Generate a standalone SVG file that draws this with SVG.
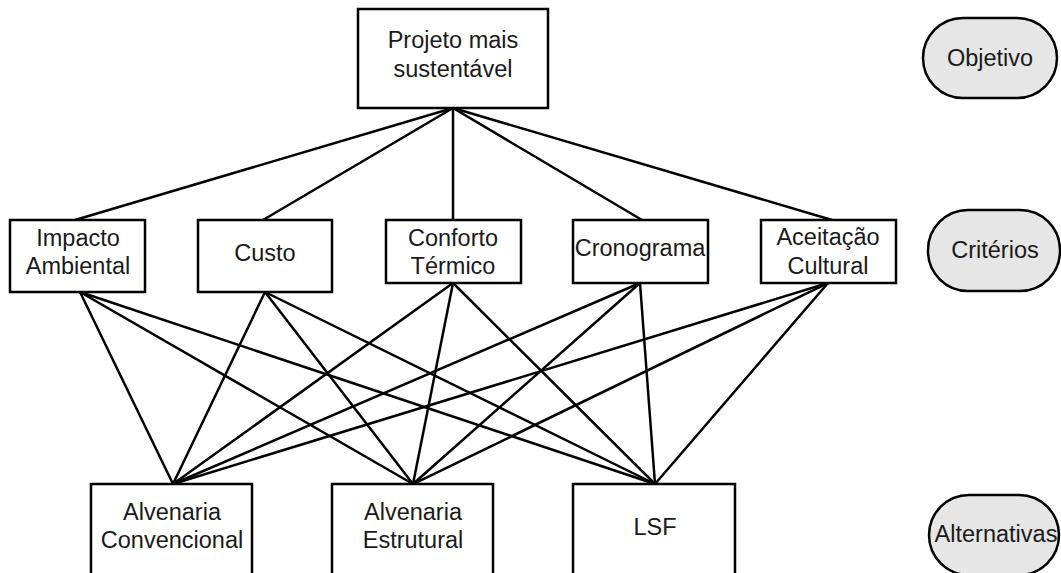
<svg xmlns="http://www.w3.org/2000/svg" width="1061" height="573" viewBox="0 0 1061 573">
<style>
.box{fill:#fff;stroke:#000;stroke-width:2.5}
.pill{fill:#e6e6e6;stroke:#000;stroke-width:2.5}
.t{font-family:"Liberation Sans",Arial,sans-serif;font-size:23.5px;fill:#1a1a1a;text-anchor:middle}
.c line{stroke:#000;stroke-width:2.5;stroke-linecap:round}
</style>
<rect width="1061" height="573" fill="#fff"/>
<g class="c" id="connectors">
<line x1="453" y1="108" x2="75" y2="220"/>
<line x1="453" y1="108" x2="263" y2="220"/>
<line x1="453" y1="108" x2="453" y2="220"/>
<line x1="453" y1="108" x2="642" y2="220"/>
<line x1="453" y1="108" x2="832" y2="220"/>
<line x1="80" y1="292" x2="173" y2="484"/>
<line x1="80" y1="292" x2="413" y2="484"/>
<line x1="80" y1="292" x2="655" y2="484"/>
<line x1="265" y1="292" x2="173" y2="484"/>
<line x1="265" y1="292" x2="413" y2="484"/>
<line x1="265" y1="292" x2="655" y2="484"/>
<line x1="453" y1="283" x2="173" y2="484"/>
<line x1="453" y1="283" x2="413" y2="484"/>
<line x1="453" y1="283" x2="655" y2="484"/>
<line x1="640" y1="283" x2="173" y2="484"/>
<line x1="640" y1="283" x2="413" y2="484"/>
<line x1="640" y1="283" x2="655" y2="484"/>
<line x1="828" y1="283" x2="173" y2="484"/>
<line x1="828" y1="283" x2="413" y2="484"/>
<line x1="828" y1="283" x2="655" y2="484"/>
</g>
<g id="projeto"><rect class="box" x="358" y="9" width="190" height="99"/><text class="t" x="453" y="48">Projeto mais</text><text class="t" x="453" y="77">sustentável</text></g>
<g id="impacto"><rect class="box" x="10" y="220" width="135" height="72"/><text class="t" x="78" y="246">Impacto</text><text class="t" x="78" y="274">Ambiental</text></g>
<g id="custo"><rect class="box" x="198" y="220" width="134" height="72"/><text class="t" x="265" y="261">Custo</text></g>
<g id="conforto"><rect class="box" x="386" y="220" width="135" height="63"/><text class="t" x="453" y="246">Conforto</text><text class="t" x="453" y="274">Térmico</text></g>
<g id="cronograma"><rect class="box" x="573" y="220" width="135" height="63"/><text class="t" x="640" y="256">Cronograma</text></g>
<g id="aceitacao"><rect class="box" x="761" y="220" width="135" height="63"/><text class="t" x="828" y="245">Aceitação</text><text class="t" x="828" y="274">Cultural</text></g>
<g id="alv-conv"><rect class="box" x="91" y="484" width="161" height="100"/><text class="t" x="172" y="520">Alvenaria</text><text class="t" x="172" y="548">Convencional</text></g>
<g id="alv-estr"><rect class="box" x="332" y="484" width="161" height="100"/><text class="t" x="413" y="520">Alvenaria</text><text class="t" x="413" y="548">Estrutural</text></g>
<g id="lsf"><rect class="box" x="573" y="484" width="162" height="100"/><text class="t" x="655" y="535">LSF</text></g>
<g id="objetivo"><rect class="pill" x="923" y="18" width="134" height="80" rx="40" ry="40"/><text class="t" x="990" y="66">Objetivo</text></g>
<g id="criterios"><rect class="pill" x="928" y="210" width="132" height="81" rx="40" ry="40"/><text class="t" x="995" y="258">Critérios</text></g>
<g id="alternativas"><rect class="pill" x="929" y="495" width="130" height="80" rx="40" ry="40"/><text class="t" x="996" y="542">Alternativas</text></g>
</svg>
